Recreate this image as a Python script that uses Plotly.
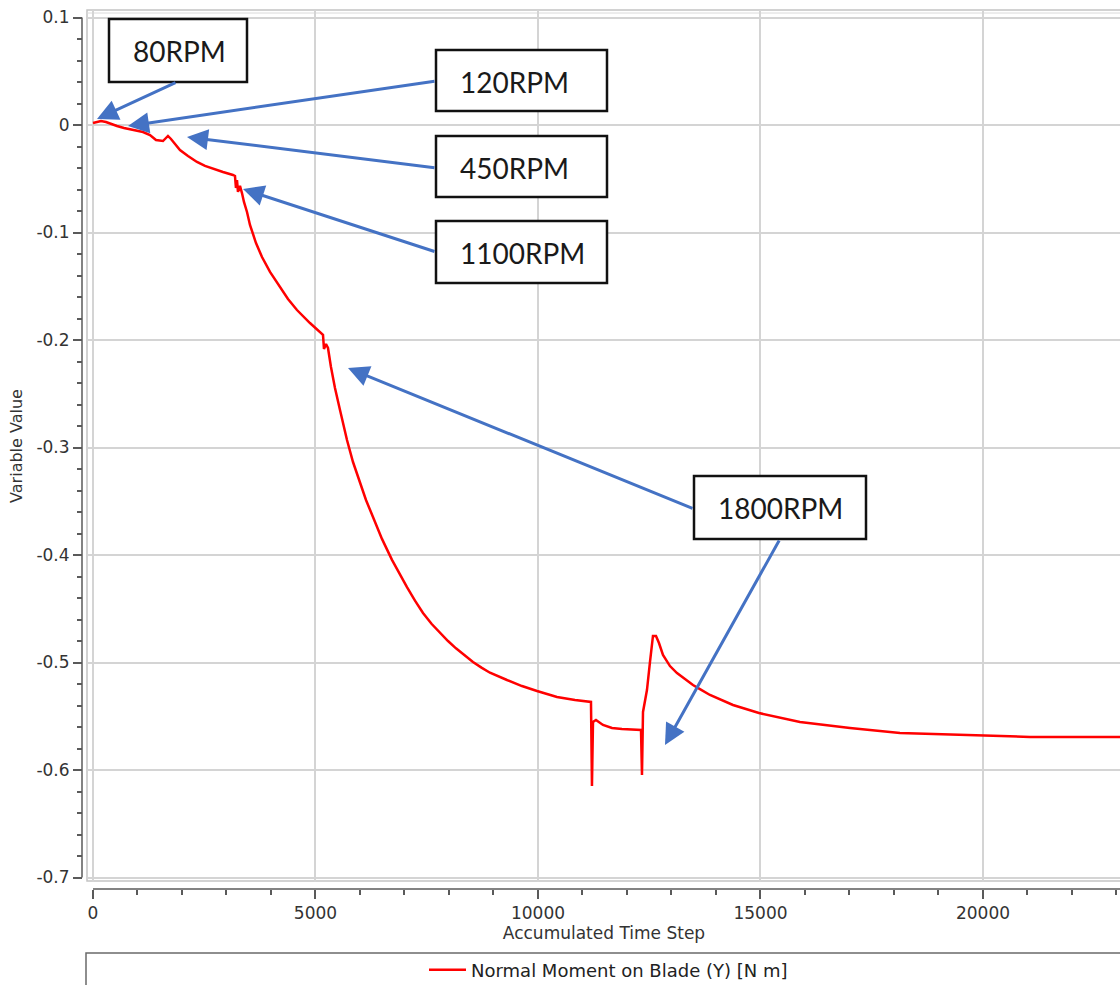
import plotly.graph_objects as go

# ---------------- data ----------------
time_step = [0, 90, 180, 292, 404, 539, 697, 899, 1124, 1281, 1416, 1573, 1640, 1685, 1753, 1820,
             1955, 2135, 2337, 2517, 2697, 2921, 3146, 3191, 3213, 3236, 3258, 3303, 3348, 3393,
             3461, 3528, 3663, 3798, 3978, 4202, 4382, 4584, 4876, 5169, 5191, 5236, 5281, 5348,
             5438, 5551, 5708, 5843, 6000, 6135, 6292, 6494, 6719, 6890, 7056, 7236, 7416, 7607,
             7798, 7978, 8157, 8348, 8539, 8730, 8921, 9303, 9640, 9978, 10427, 10831, 11191, 11213,
             11236, 11303, 11461, 11663, 11888, 12315, 12337, 12360, 12449, 12517, 12584, 12652,
             12719, 12809, 12966, 13124, 13303, 13483, 13640, 13865, 14382, 14966, 15888, 17011,
             18135, 19640, 21056, 23079]
moment = [0.0019, 0.0028, 0.0037, 0.0028, 0.0009, -0.0009, -0.0028, -0.0047, -0.0065, -0.0093,
          -0.0140, -0.0149, -0.0121, -0.0102, -0.0130, -0.0167, -0.0233, -0.0288, -0.0344, -0.0381,
          -0.0409, -0.0437, -0.0465, -0.0474, -0.0586, -0.0512, -0.0623, -0.0567, -0.0633, -0.0716,
          -0.0809, -0.0930, -0.1098, -0.1228, -0.1367, -0.1507, -0.1619, -0.1721, -0.1842, -0.1953,
          -0.2084, -0.2037, -0.2074, -0.2251, -0.2447, -0.2651, -0.2930, -0.3135, -0.3330, -0.3488,
          -0.3647, -0.3850, -0.4045, -0.4180, -0.4298, -0.4425, -0.4540, -0.4640, -0.4726, -0.4800,
          -0.4868, -0.4934, -0.4995, -0.5048, -0.5095, -0.5163, -0.5219, -0.5265, -0.5321, -0.5349,
          -0.5367, -0.6149, -0.5553, -0.5535, -0.5581, -0.5609, -0.5619, -0.5628, -0.6047, -0.5460,
          -0.5256, -0.4995, -0.4753, -0.4753, -0.4819, -0.4930, -0.5033, -0.5098, -0.5153, -0.5209,
          -0.5247, -0.5302, -0.5395, -0.5470, -0.5553, -0.5609, -0.5656, -0.5674, -0.5693, -0.5693]

series_name = "Normal Moment on Blade (Y) [N m]"
x_tick_vals = [0, 5000, 10000, 15000, 20000]
x_tick_text = ["0", "5000", "10000", "15000", "20000"]
y_tick_vals = [0.1, 0, -0.1, -0.2, -0.3, -0.4, -0.5, -0.6, -0.7]
y_tick_text = ["0.1", "0", "-0.1", "-0.2", "-0.3", "-0.4", "-0.5", "-0.6", "-0.7"]
rpm_labels = ["80RPM", "120RPM", "450RPM", "1100RPM", "1800RPM"]

# ---------------- layout helpers (pixel -> paper) ----------------
FIG_W, FIG_H = 1120, 985
L, T, B = 82, 10, 96
PW = FIG_W - L
PH = FIG_H - T - B
PAPER_BOTTOM = FIG_H - B


def pxx(x):
    return (x - L) / PW


def pxy(y):
    return (PAPER_BOTTOM - y) / PH


TICK_FONT = dict(family="DejaVu Sans", size=17, color="#333333")
AXIS_COLOR = "#5a5a5a"
GRID_COLOR = "#d4d4d4"
ARROW_COLOR = "#4472C4"

fig = go.Figure()
fig.add_trace(go.Scatter(x=time_step, y=moment, mode="lines", name=series_name,
                         line=dict(color="#ff0000", width=2.5), showlegend=True))

shapes = []
# plot frame
shapes.append(dict(type="rect", xref="paper", yref="paper", x0=pxx(87), x1=pxx(1125),
                   y0=pxy(881), y1=pxy(10), line=dict(color="#c4c4c4", width=1.5), layer="below"))
shapes.append(dict(type="line", xref="paper", yref="paper", x0=pxx(87), x1=pxx(1125),
                   y0=pxy(13), y1=pxy(13), line=dict(color="#dadada", width=1), layer="below"))
# axis lines spanning the tick range
shapes.append(dict(type="line", xref="paper", yref="y", x0=0, x1=0, y0=-0.7, y1=0.1,
                   line=dict(color=AXIS_COLOR, width=1.5)))
shapes.append(dict(type="line", xref="x", yref="paper", x0=0, x1=30000, y0=0, y1=0,
                   line=dict(color=AXIS_COLOR, width=1.5)))
# legend frame
shapes.append(dict(type="rect", xref="paper", yref="paper", x0=pxx(86), x1=pxx(1130),
                   y0=pxy(1000), y1=pxy(953), line=dict(color="#6a6a6a", width=1.5)))

annotations = []
# label boxes: (left, top, right, bottom)
boxes = [(109, 19, 247, 82), (436, 50, 607, 111), (436, 136, 607, 197),
         (436, 221, 607, 283), (694, 476, 866, 539)]
for (l, t, r, b), lab in zip(boxes, rpm_labels):
    shapes.append(dict(type="rect", xref="paper", yref="paper", x0=pxx(l), x1=pxx(r),
                       y0=pxy(b), y1=pxy(t), fillcolor="white",
                       line=dict(color="#111111", width=2.5), layer="above"))
    annotations.append(dict(xref="paper", yref="paper", x=pxx(l + 22), y=pxy((t + b) / 2 + 1),
                            xanchor="left", yanchor="middle", text=lab, showarrow=False,
                            font=dict(family="Lato", size=28, color="#1a1a1a")))

# arrows: (tip x, tip y, tail x, tail y) in pixels
arrows = [(97, 119, 177, 82), (128, 126, 436, 81), (187, 137, 436, 168),
          (243, 189, 436, 252), (348, 368, 694, 509), (665, 745, 780, 539)]
for tx, ty, sx, sy in arrows:
    annotations.append(dict(xref="paper", yref="paper", x=pxx(tx), y=pxy(ty),
                            ax=sx - tx, ay=sy - ty, text="", showarrow=True,
                            arrowhead=2, arrowsize=1.4, arrowwidth=3,
                            arrowcolor=ARROW_COLOR, standoff=0, startstandoff=0))

fig.update_layout(
    width=FIG_W, height=FIG_H, autosize=False,
    margin=dict(l=L, r=0, t=T, b=B, autoexpand=False),
    paper_bgcolor="white", plot_bgcolor="white",
    font=dict(family="DejaVu Sans", size=17, color="#333333"),
    shapes=shapes, annotations=annotations,
    showlegend=True,
    legend=dict(orientation="h", xanchor="left", yanchor="middle",
                x=pxx(424), y=pxy(970), bgcolor="rgba(0,0,0,0)", itemwidth=37,
                font=dict(family="DejaVu Sans", size=18, color="#222222")),
    xaxis=dict(domain=[pxx(88), 1], anchor="free", position=0,
               range=[-112, 23079], showline=False, zeroline=False,
               tickvals=x_tick_vals, ticktext=x_tick_text, tickfont=TICK_FONT,
               ticks="outside", ticklen=9, tickwidth=1.5, tickcolor=AXIS_COLOR,
               showgrid=True, gridcolor=GRID_COLOR, gridwidth=1.5,
               minor=dict(dtick=1000, tick0=0, ticks="outside", ticklen=5,
                          tickwidth=1.5, tickcolor=AXIS_COLOR, showgrid=False),
               title=dict(text="Accumulated Time Step", standoff=2,
                          font=dict(family="DejaVu Sans", size=17, color="#333333"))),
    yaxis=dict(domain=[pxy(882), 1], anchor="free", position=0,
               range=[-0.70419, 0.10698], showline=False, zeroline=False,
               tickvals=y_tick_vals, ticktext=y_tick_text, tickfont=TICK_FONT,
               ticks="outside", ticklen=9, tickwidth=1.5, tickcolor=AXIS_COLOR,
               showgrid=True, gridcolor=GRID_COLOR, gridwidth=1.5,
               minor=dict(dtick=0.02, tick0=0, ticks="outside", ticklen=5,
                          tickwidth=1.5, tickcolor=AXIS_COLOR, showgrid=False),
               title=dict(text="Variable Value", standoff=8,
                          font=dict(family="DejaVu Sans", size=16, color="#333333"))),
)

fig.write_html("out.html", config={"displayModeBar": False},
               post_script="document.body.style.margin='0';document.body.style.overflow='hidden';")
